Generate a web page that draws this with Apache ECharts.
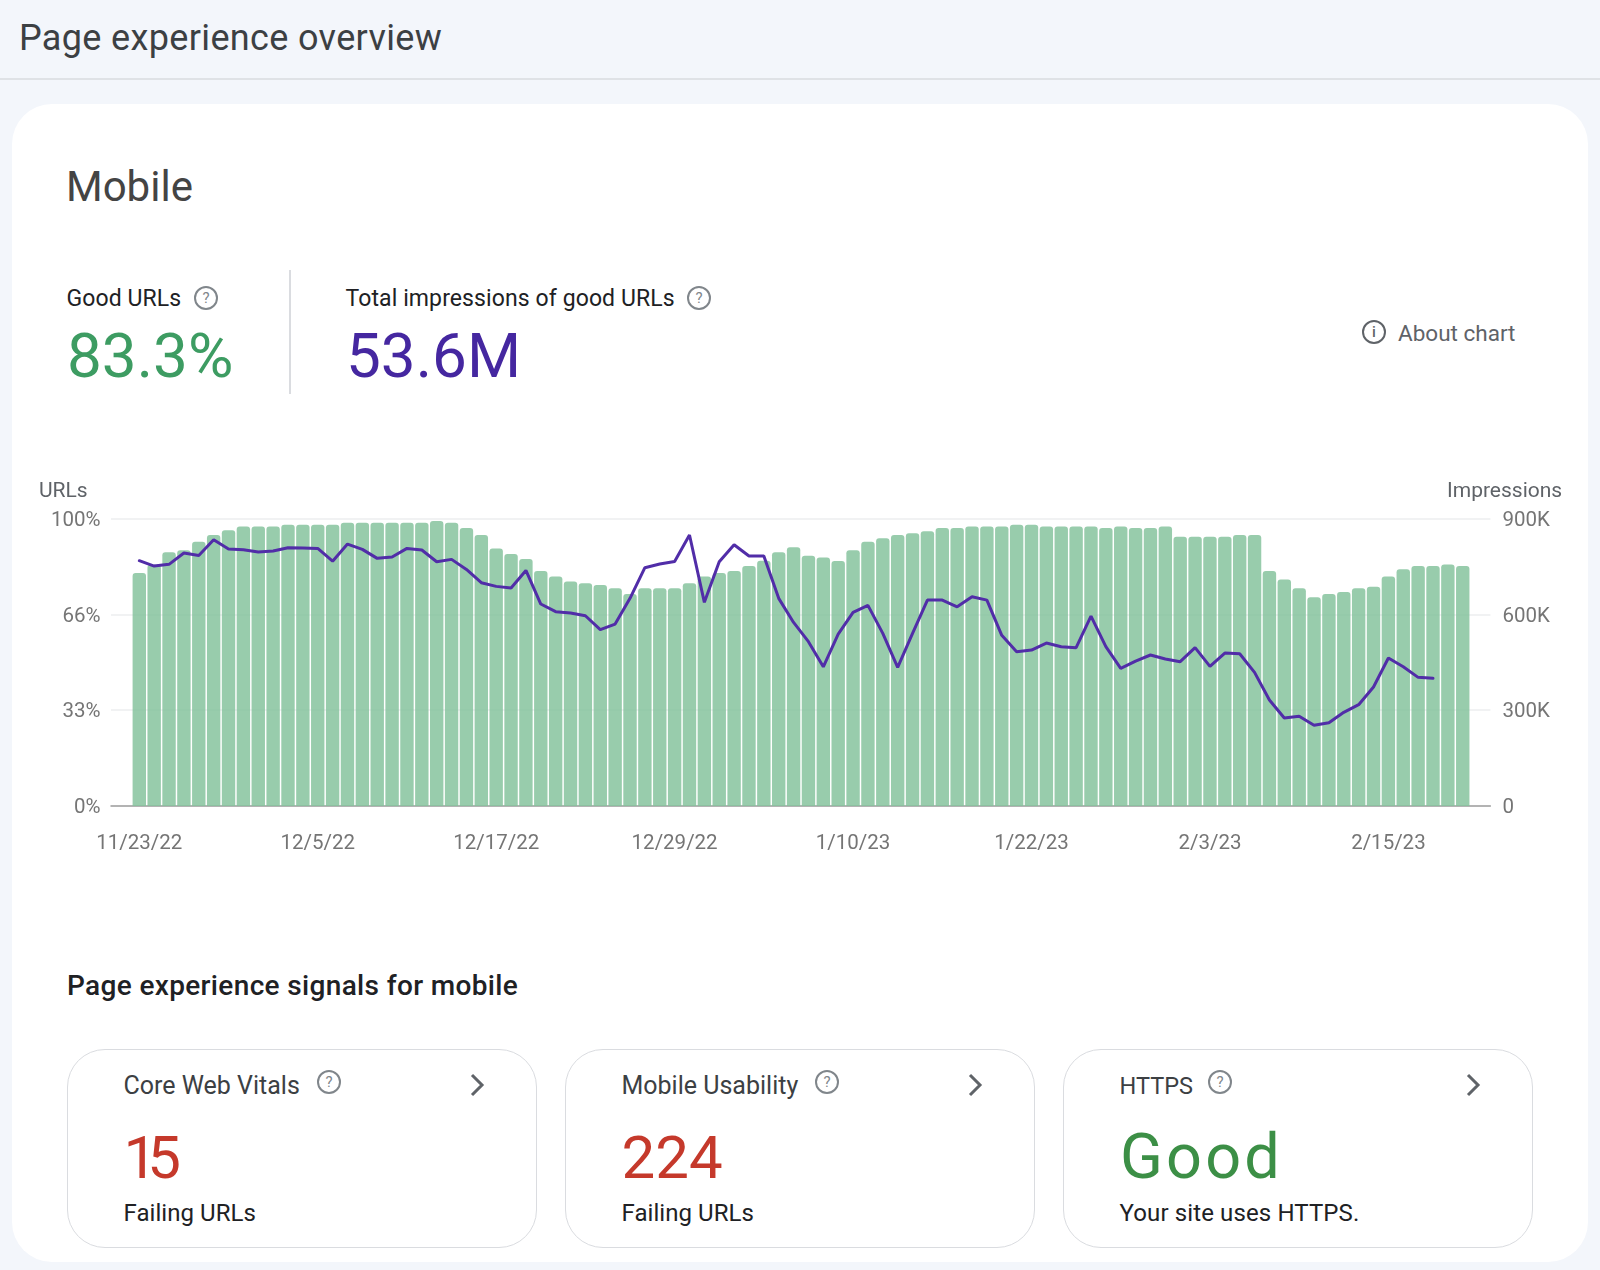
<!DOCTYPE html>
<html>
<head>
<meta charset="utf-8">
<title>Page experience overview</title>
<script src="https://cdn.jsdelivr.net/npm/echarts@6/dist/echarts.min.js"></script>
<style>
html, body { margin: 0; padding: 0; background: #f3f6fb; }
#page { position: relative; width: 1600px; height: 1270px; overflow: hidden; font-family: Roboto, sans-serif; color: #3c4043; }
#page div, #page span { position: absolute; white-space: nowrap; }
.rule { left: 0; top: 78px; width: 1600px; height: 2px; background: #dfe2e6; }
.card { left: 12px; top: 104px; width: 1576px; height: 1158px; background: #fff; border-radius: 40px; }
.lbl { font-size: 23px; line-height: 26px; color: #202124; letter-spacing: .1px; }
.sub { font-size: 24px; line-height: 28px; letter-spacing: .05px; }
.ttl { font-size: 25px; line-height: 28px; color: #3c4043; }
.big { font-size: 62px; line-height: 70px; }
.num { font-size: 60px; }
.q { width: 20px; height: 20px; border: 2px solid #80868b; border-radius: 50%; color: #80868b; font-size: 15px; line-height: 20px; text-align: center; }
.box { top: 1048.5px; width: 467.5px; height: 197.5px; border: 1.5px solid #dadce0; border-radius: 38px; background: #fff; }
.chev { top: 1072px; width: 16px; height: 26px; }
#chart { left: 0; top: 470px; width: 1600px; height: 400px; }
</style>
</head>
<body>
<div id="page">
	<div class="rule"></div>
	<div class="card"></div>
	<div style="left:19px;top:16px;font-size:36px;line-height:44px;letter-spacing:.35px;color:#3c4043">Page experience overview</div>
	<div style="left:66px;top:160px;font-size:42px;line-height:54px;color:#444">Mobile</div>

	<div class="lbl" style="left:66.5px;top:286px">Good URLs</div>
	<span class="q" style="left:194px;top:286px">?</span>
	<div style="left:289px;top:270px;width:1.5px;height:124px;background:#dadce0"></div>
	<div class="big" style="left:67px;top:321px;color:#3d9c62">83.3%</div>

	<div class="lbl" style="left:345.5px;top:286px">Total impressions of good URLs</div>
	<span class="q" style="left:687px;top:286px">?</span>
	<div class="big" style="left:346px;top:321px;color:#4527a0">53.6M</div>

	<span class="q" style="left:1362px;top:320px;color:#5f6368;border-color:#5f6368;font-weight:500">i</span>
	<div style="left:1398px;top:319px;font-size:22.5px;line-height:28px;color:#5f6368">About chart</div>

	<div id="chart"></div>

	<div style="left:67px;top:967px;font-size:28px;line-height:38px;font-weight:500;letter-spacing:.35px;color:#202124">Page experience signals for mobile</div>

	<div class="box" style="left:67px"></div>
	<div class="ttl" style="left:123.5px;top:1071.5px">Core Web Vitals</div>
	<span class="q" style="left:317px;top:1070px">?</span>
	<svg class="chev" style="position:absolute;left:468.5px" viewBox="0 0 16 26"><path d="M3 3l10 10L3 23" fill="none" stroke="#5f6368" stroke-width="3"/></svg>
	<div class="big num" style="left:123.5px;top:1122.5px;letter-spacing:-10px;color:#c5392b">15</div>
	<div class="lbl sub" style="left:123.5px;top:1199px">Failing URLs</div>

	<div class="box" style="left:565px"></div>
	<div class="ttl" style="left:621.5px;top:1071.5px">Mobile Usability</div>
	<span class="q" style="left:815px;top:1070px">?</span>
	<svg class="chev" style="position:absolute;left:966.5px" viewBox="0 0 16 26"><path d="M3 3l10 10L3 23" fill="none" stroke="#5f6368" stroke-width="3"/></svg>
	<div class="big num" style="left:621.5px;top:1122.5px;color:#c5392b">224</div>
	<div class="lbl sub" style="left:621.5px;top:1199px">Failing URLs</div>

	<div class="box" style="left:1063px"></div>
	<div class="ttl" style="left:1119.5px;top:1071.5px;font-size:23.5px">HTTPS</div>
	<span class="q" style="left:1208px;top:1070px">?</span>
	<svg class="chev" style="position:absolute;left:1464.5px" viewBox="0 0 16 26"><path d="M3 3l10 10L3 23" fill="none" stroke="#5f6368" stroke-width="3"/></svg>
	<div class="big" style="left:1120px;top:1122px;font-size:63px;letter-spacing:3.2px;color:#3c8f46">Good</div>
	<div class="lbl sub" style="left:1119.5px;top:1199px;letter-spacing:.12px">Your site uses HTTPS.</div>
</div>

<script>
// x tick labels, positions are days counted from 11/23/22
var tickDays = [0, 12, 24, 36, 48, 60, 72, 84];
var tickDates = ['11/23/22', '12/5/22', '12/17/22', '12/29/22', '1/10/23', '1/22/23', '2/3/23', '2/15/23'];
var leftTicks = ['0%', '33%', '66%', '100%'];
var rightTicks = ['0', '300K', '600K', '900K'];

// good URLs, percent, one bar per day
var goodUrls = [
	81.1, 84.0, 88.3, 89.0, 92.0, 94.3, 96.0, 97.3, 97.3, 97.3,
	97.9, 97.9, 97.9, 97.9, 98.6, 98.6, 98.6, 98.6, 98.6, 98.6,
	99.2, 98.6, 96.8, 94.3, 89.6, 87.7, 86.0, 81.8, 79.9, 78.1,
	77.5, 76.9, 75.8, 73.8, 75.8, 75.8, 75.8, 77.5, 79.9, 81.1,
	81.8, 83.5, 85.4, 88.3, 90.1, 87.1, 86.5, 85.3, 89.0, 92.0,
	93.2, 94.3, 94.9, 95.6, 96.8, 96.8, 97.3, 97.3, 97.3, 97.9,
	97.9, 97.3, 97.3, 97.3, 97.3, 96.8, 97.3, 96.8, 96.8, 97.3,
	93.7, 93.7, 93.7, 93.7, 94.3, 94.3, 81.8, 78.8, 75.8, 72.7,
	73.8, 74.5, 75.8, 76.3, 79.9, 82.4, 83.5, 83.5, 84.1, 83.5
];

// impressions of good URLs, stops two days before the last bar
var impressions = [
	768400, 751700, 757000, 792400, 785000, 834000, 805000, 803000, 795600, 798700,
	809000, 808000, 807000, 767000, 820600, 804000, 775800, 780000, 807000, 802000,
	765000, 772600, 741000, 699500, 688000, 683000, 738000, 632700, 608700, 604500,
	596000, 552300, 570000, 650500, 746500, 758000, 766000, 848900, 638000, 765000,
	818600, 783000, 783000, 650500, 575000, 514700, 436000, 538700, 606600, 628600,
	540800, 434000, 540800, 645000, 645000, 624000, 655700, 645000, 534600, 483400,
	488600, 510500, 499000, 496000, 595000, 499000, 431000, 454000, 473000, 460500,
	452000, 496000, 437500, 479000, 477000, 418700, 332000, 275600, 281000, 252700,
	261000, 293400, 317400, 372700, 463600, 436000, 403000, 400000
];

var chart = echarts.init(document.getElementById('chart'));
var axisText = { color: '#757575', fontSize: 20.5, fontFamily: 'Roboto' };
var axisTitle = { color: '#5f6368', fontSize: 21, fontWeight: 400, fontFamily: 'Roboto' };

chart.setOption({
	animation: false,
	title: [
		{ text: 'URLs', left: 39, top: 11, padding: 0, textStyle: axisTitle },
		{ text: 'Impressions', left: 1447, top: 11, padding: 0, textStyle: axisTitle }
	],
	grid: { left: 111, top: 48.7, width: 1379.4, height: 287.3 },
	xAxis: {
		type: 'value',
		min: -1.903,
		max: 90.86,
		splitLine: { show: false },
		axisTick: { show: false },
		axisLine: { lineStyle: { color: '#9e9e9e', width: 1.5 } },
		axisLabel: Object.assign({}, axisText, {
			margin: 27,
			customValues: tickDays,
			formatter: function(value) {
				return tickDates[tickDays.indexOf(value)];
			}
		})
	},
	yAxis: [{
		type: 'value',
		min: 0,
		max: 100,
		interval: 100 / 3,
		axisLine: { show: false },
		axisTick: { show: false },
		splitLine: { lineStyle: { color: '#eceeef', width: 1.5 } },
		axisLabel: Object.assign({}, axisText, {
			margin: 10.5,
			verticalAlign: 'top',
			lineHeight: 4,
			formatter: function(value, index) {
				return leftTicks[index];
			}
		})
	}, {
		type: 'value',
		min: 0,
		max: 900000,
		interval: 300000,
		position: 'right',
		axisLine: { show: false },
		axisTick: { show: false },
		splitLine: { show: false },
		axisLabel: Object.assign({}, axisText, {
			margin: 12,
			verticalAlign: 'top',
			lineHeight: 4,
			formatter: function(value, index) {
				return rightTicks[index];
			}
		})
	}],
	series: [{
		type: 'bar',
		yAxisIndex: 0,
		barWidth: 13.4,
		itemStyle: { color: 'rgba(134,195,157,.85)', borderRadius: [3, 3, 0, 0] },
		data: goodUrls.map(function(v, i) { return [i, v]; })
	}, {
		type: 'line',
		yAxisIndex: 1,
		showSymbol: false,
		lineStyle: { color: '#512da8', width: 3, cap: 'round' },
		data: impressions.map(function(v, i) { return [i, v]; })
	}]
});
</script>
</body>
</html>
